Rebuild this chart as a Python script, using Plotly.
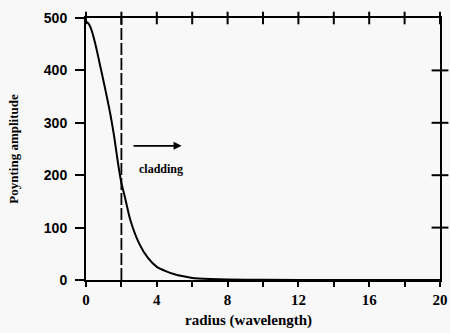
import plotly.graph_objects as go

radius = [0, 0.1, 0.2, 0.3, 0.4, 0.6, 0.8, 1.0, 1.2, 1.4, 1.6, 1.8, 2.0, 2.2, 2.5, 3.0, 3.5, 4.0, 4.5, 5.0, 5.5, 6.0, 7, 8, 10, 14, 20]
poynting = [493, 491, 486, 478, 467, 440, 409, 378, 346, 312, 272, 225, 185, 158, 115, 70, 42, 25, 17, 11, 7, 4, 2, 1, 0.3, 0, 0]

cladding_x = [2, 2]
cladding_y = [0, 500]

x_tickvals = [0, 2, 4, 6, 8, 10, 12, 14, 16, 18, 20]
x_ticktext = ["0", "", "4", "", "8", "", "12", "", "16", "", "20"]
y_tickvals = [0, 100, 200, 300, 400, 500]
y_ticktext = ["0", "100", "200", "300", "400", "500"]
right_tickvals = [100, 200, 300, 400]

fig = go.Figure()
fig.add_trace(go.Scatter(x=cladding_x, y=cladding_y, mode="lines",
                         line=dict(color="black", width=1.8, dash="12px,3px"), showlegend=False))
fig.add_trace(go.Scatter(x=radius, y=poynting, mode="lines", line_shape="spline",
                         line=dict(color="black", width=2, smoothing=0.6), showlegend=False))
# top and right frame ticks
fig.add_trace(go.Scatter(x=x_tickvals, y=[500] * len(x_tickvals), mode="markers", cliponaxis=False,
                         marker=dict(symbol="line-ns-open", size=9, color="black",
                                     line=dict(color="black", width=2)),
                         showlegend=False, hoverinfo="skip"))
fig.add_trace(go.Scatter(x=[20] * len(right_tickvals), y=right_tickvals, mode="markers", cliponaxis=False,
                         marker=dict(symbol="line-ew-open", size=12, color="black",
                                     line=dict(color="black", width=2)),
                         showlegend=False, hoverinfo="skip"))

fig.add_annotation(x=5.4, y=256, ax=2.6, ay=256, xref="x", yref="y", axref="x", ayref="y",
                   showarrow=True, arrowhead=2, arrowsize=1, arrowwidth=1.6, arrowcolor="black", text="")
fig.add_annotation(x=4.25, y=212, xref="x", yref="y", text="cladding", showarrow=False,
                   font=dict(family="Liberation Serif", size=12, color="black", weight="bold"))
fig.add_annotation(x=0.46, y=-0.115, xref="paper", yref="paper", yanchor="top",
                   text="radius (wavelength)", showarrow=False,
                   font=dict(family="Liberation Serif", size=15, color="black", weight="bold"))

fig.update_xaxes(range=[0, 20], tickvals=x_tickvals, ticktext=x_ticktext, ticks="outside",
                 ticklen=5, tickwidth=2, tickcolor="black", showline=True, linecolor="black",
                 linewidth=2, mirror=True, showgrid=False, zeroline=False, automargin=False,
                 tickfont=dict(family="Liberation Serif", size=15, color="black", weight="bold"))
fig.update_yaxes(range=[0, 500], tickvals=y_tickvals, ticktext=y_ticktext, ticks="outside",
                 ticklen=9, tickwidth=2, tickcolor="black", showline=True, linecolor="black",
                 linewidth=2, mirror=True, showgrid=False, zeroline=False, automargin=False,
                 ticklabelstandoff=5,
                 tickfont=dict(family="Liberation Sans", size=14, color="black", weight="bold"),
                 title=dict(text="Poynting amplitude", standoff=22,
                            font=dict(family="Liberation Serif", size=13, color="black", weight="bold")))

fig.update_layout(width=450, height=333, margin=dict(l=86, r=10, t=18, b=53),
                  paper_bgcolor="#f8f8f8", plot_bgcolor="#f8f8f8")
fig.write_html("out.html", config={"displayModeBar": False},
               post_script="document.body.style.margin='0px';")
